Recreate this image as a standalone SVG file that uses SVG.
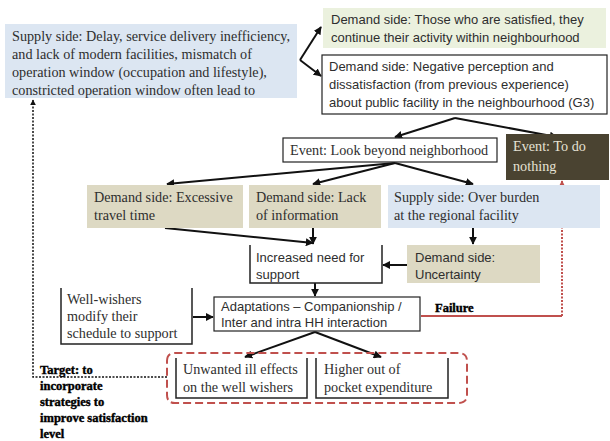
<svg xmlns="http://www.w3.org/2000/svg" width="610" height="441" viewBox="0 0 610 441">
  <defs>
    <style>
      .t { font-family: "Liberation Serif", "DejaVu Serif", serif; font-size: 14.2px; fill: #2e2e2e; }
      .s { font-family: "Liberation Sans", "DejaVu Sans", sans-serif; font-size: 13px; fill: #2e2e2e; }
      .b { font-family: "Liberation Serif", "DejaVu Serif", serif; font-size: 12.5px; font-weight: bold; fill: #000; stroke: #000; stroke-width: 0.4; }
      .blue { fill: #dce6f2; }
      .green { fill: #ebf1de; }
      .tan { fill: #ddd9c3; }
      .frame { fill: #fff; stroke: #222; stroke-width: 1.2; }
      .open { fill: none; stroke: #222; stroke-width: 1.5; }
      .edge { fill: none; stroke: #111; stroke-width: 2; }
      .dot { fill: none; stroke: #111; stroke-width: 1.5; stroke-dasharray: 2 1.5; }
      .red { fill: none; stroke: #c0504d; stroke-width: 2; }
    </style>
    <marker id="ah" viewBox="0 0 10 10" refX="9" refY="5" markerWidth="4" markerHeight="4" orient="auto">
      <path d="M0,0 L10,5 L0,10 z" fill="#111"/>
    </marker>
    <marker id="ahr" viewBox="0 0 10 10" refX="9" refY="5" markerWidth="4" markerHeight="4" orient="auto">
      <path d="M0,0 L10,5 L0,10 z" fill="#c0504d"/>
    </marker>
  </defs>

  <!-- connectors -->
  <g id="connectors">
    <path class="edge" d="M300,60 L321,76" marker-end="url(#ah)"/>
    <path class="edge" d="M300,60 L321,27" marker-end="url(#ah)"/>
    <path class="edge" d="M455,118 L395,137" marker-end="url(#ah)"/>
    <path class="edge" d="M455,118 L557,137" marker-end="url(#ah)"/>
    <path class="edge" d="M395,163 L167,184" marker-end="url(#ah)"/>
    <path class="edge" d="M395,163 L313,184" marker-end="url(#ah)"/>
    <path class="edge" d="M395,163 L473,184" marker-end="url(#ah)"/>
    <path class="edge" d="M165,228 L313,243" marker-end="url(#ah)"/>
    <path class="edge" d="M313,227 L313,244" marker-end="url(#ah)"/>
    <path class="edge" d="M473,227 L473,244" marker-end="url(#ah)"/>
    <path class="edge" d="M407,265 L383,265" marker-end="url(#ah)"/>
    <path class="edge" d="M315,283 L315,296" marker-end="url(#ah)"/>
    <path class="edge" d="M193,317 L213,317" marker-end="url(#ah)"/>
    <path class="edge" d="M315,332 L245,357" marker-end="url(#ah)"/>
    <path class="edge" d="M315,332 L381,357" marker-end="url(#ah)"/>
    <path class="dot" d="M167,377 L33,377 L33,100" marker-end="url(#ah)"/>
    <path class="red" d="M421,316 L562,316"/>
    <path class="red" stroke-dasharray="2 1.5" d="M562,316 L562,181" marker-end="url(#ahr)"/>
    <path class="red" stroke-width="3" stroke-dasharray="8 4" d="M167,361 Q167,353 175,353 L458,353 Q467,353 467,361 L467,395 Q467,403 458,403 L175,403 Q167,403 167,395 Z"/>
  </g>

  <g id="supply-delay">
    <rect class="blue" x="5" y="24" width="292" height="74"/>
    <text class="t" x="12" y="41">Supply side: Delay, service delivery inefficiency,</text>
    <text class="t" x="12" y="59">and lack of modern facilities, mismatch of</text>
    <text class="t" x="12" y="77">operation window (occupation and lifestyle),</text>
    <text class="t" x="12" y="95">constricted operation window often lead to</text>
  </g>

  <g id="demand-satisfied">
    <rect class="green" x="323" y="8" width="283" height="40"/>
    <text class="s" x="331" y="24">Demand side: Those who are satisfied, they</text>
    <text class="s" x="331" y="42">continue their activity within neighbourhood</text>
  </g>

  <g id="demand-negative">
    <rect class="frame" x="322" y="55" width="285" height="59"/>
    <text class="s" x="329" y="71">Demand side: Negative perception and</text>
    <text class="s" x="329" y="89">dissatisfaction (from previous experience)</text>
    <text class="s" x="329" y="107">about public facility in the neighbourhood (G3)</text>
  </g>

  <g id="event-look">
    <rect class="frame" x="283" y="138" width="214" height="24"/>
    <text class="t" x="290" y="155">Event: Look beyond neighborhood</text>
  </g>

  <g id="event-nothing">
    <rect fill="#4a4331" x="506" y="134" width="103" height="46"/>
    <text class="t" x="513" y="151" style="fill:#e6e2d4">Event: To do</text>
    <text class="t" x="513" y="171" style="fill:#e6e2d4">nothing</text>
  </g>

  <g id="demand-travel">
    <rect class="tan" x="87" y="185" width="156" height="43"/>
    <text class="t" x="94" y="202">Demand side: Excessive</text>
    <text class="t" x="94" y="220">travel time</text>
  </g>

  <g id="demand-info">
    <rect class="tan" x="249" y="185" width="132" height="43"/>
    <text class="t" x="256" y="202">Demand side: Lack</text>
    <text class="t" x="256" y="220">of information</text>
  </g>

  <g id="supply-burden">
    <rect class="blue" x="388" y="185" width="212" height="43"/>
    <text class="t" x="394" y="202">Supply side: Over burden</text>
    <text class="t" x="394" y="220">at the regional facility</text>
  </g>

  <g id="need-support">
    <path class="open" d="M250,245 L250,283 L382,283 L382,245"/>
    <text class="s" x="256" y="262">Increased need for</text>
    <text class="s" x="256" y="279">support</text>
  </g>

  <g id="demand-uncertainty">
    <rect class="tan" x="407" y="245" width="133" height="38"/>
    <text class="s" x="415" y="262">Demand side:</text>
    <text class="s" x="415" y="279">Uncertainty</text>
  </g>

  <g id="well-wishers">
    <path class="open" d="M61,288 L61,344 L192,344 L192,288"/>
    <text class="t" x="67" y="304">Well-wishers</text>
    <text class="t" x="67" y="321">modify their</text>
    <text class="t" x="67" y="338">schedule to support</text>
  </g>

  <g id="adaptations">
    <rect class="frame" x="214" y="297" width="206" height="34"/>
    <text class="s" x="221" y="311">Adaptations – Companionship /</text>
    <text class="s" x="221" y="327">Inter and intra HH interaction</text>
  </g>

  <g id="failure-label">
    <text class="b" x="435" y="312">Failure</text>
  </g>

  <g id="ill-effects">
    <path class="open" d="M176,358 L176,398 L307,398 L307,358"/>
    <text class="t" x="183" y="374">Unwanted ill effects</text>
    <text class="t" x="183" y="392">on the well wishers</text>
  </g>

  <g id="expenditure">
    <path class="open" d="M316,358 L316,398 L448,398 L448,358"/>
    <text class="t" x="324" y="374">Higher out of</text>
    <text class="t" x="324" y="392">pocket expenditure</text>
  </g>

  <g id="target-note">
    <text class="b" x="40" y="374">Target: to</text>
    <text class="b" x="40" y="390">incorporate</text>
    <text class="b" x="40" y="406">strategies to</text>
    <text class="b" x="40" y="422">improve satisfaction</text>
    <text class="b" x="40" y="438">level</text>
  </g>
</svg>
